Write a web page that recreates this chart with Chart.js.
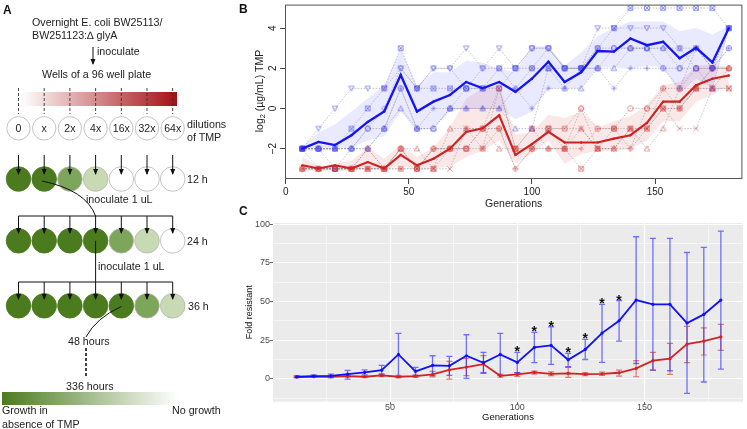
<!DOCTYPE html>
<html>
<head>
<meta charset="utf-8">
<script src="https://cdn.jsdelivr.net/npm/chart.js@4.4.1/dist/chart.umd.min.js"></script>
<style>
html, body { margin: 0; padding: 0; background: #fff; }
#wrap { position: relative; width: 747px; height: 429px; overflow: hidden; }
#chartB { position: absolute; left: 236px; top: 0; }
#chartC { position: absolute; left: 236px; top: 215px; }
#diag { position: absolute; left: 0; top: 0; z-index: 2; pointer-events: none; }
</style>
</head>
<body>
<div id="wrap">
  <canvas id="chartB" width="511" height="215"></canvas>
  <canvas id="chartC" width="511" height="214"></canvas>
  <svg id="diag" width="747" height="429"></svg>
</div>
<script>
// ---------- panel B : log2 MIC, 6 replicate wells per strain ----------
var gensB = [6.7,13.3,20,26.7,33.3,40,46.7,53.3,60,66.7,73.3,80,86.7,93.3,100,106.7,113.3,120,126.7,133.3,140,146.7,153.3,160,166.7,173.3,180];

var wtMean  = [-2.0,-1.66,-1.82,-1.33,-0.67,-0.15,1.67,-0.15,0.34,0.67,1.32,1.0,1.32,0.83,1.48,2.33,1.32,1.8,2.86,2.83,3.48,3.15,3.32,2.5,3.02,2.29,4.0];
var wtUpper = [-1.9,-1.2,-0.8,-0.15,0.5,1.15,2.94,1.15,1.8,1.8,2.37,2.29,1.97,1.8,3.1,3.1,2.13,2.78,3.6,4.0,4.33,4.33,4.33,3.84,4.0,3.67,4.1];
var wtLower = [-2.1,-2.1,-2.05,-1.93,-1.6,-1.37,-0.15,-1.12,-0.96,-0.15,0,0,0,-0.55,-0.15,0.99,0.99,0.99,2.05,2.05,1.97,2.13,2.05,0.75,1.48,0.99,3.9];

var dMean  = [-2.83,-2.99,-2.83,-2.99,-2.67,-2.99,-2.31,-2.83,-2.5,-2.0,-1.17,-0.99,-0.34,-2.31,-1.77,-1.16,-1.69,-1.69,-1.69,-1.5,-1.33,-0.72,0.34,0.34,1.16,1.48,1.64];
var dUpper = [-2.42,-2.9,-2.75,-2.6,-1.95,-2.5,-1.8,-2.42,-1.95,-0.96,0.5,0.99,1.15,-1.28,-1.2,-0.31,-0.47,-0.15,-0.96,-0.64,-0.39,0.16,1.15,1.32,2.13,2.2,2.05];
var dLower = [-3.15,-3.07,-3.15,-3.07,-2.99,-3.07,-2.83,-3.07,-2.99,-2.9,-2.42,-2.1,-1.6,-2.75,-2.26,-1.6,-2.75,-2.26,-2.1,-2.1,-2.0,-1.6,-0.64,-0.64,0.34,0.67,1.15];

var wtRep = [
  [-2,-2,-2,-1,0,1,3,1,1,1,1,1,2,2,2,2,2,2,3,4,5,5,5,5,5,5,4],
  [-2,-1,0,1,1,1,2,1,2,2,3,2,3,2,3,3,2,2,4,4,4,4,4,3,3,2,4],
  [-2,-2,-2,-2,-1,0,2,1,2,2,1,2,2,1,2,3,2,2,3,3,3,3,3,2,3,2,4],
  [-2,-2,-3,-2,-1,-1,1,-1,-1,0,1,1,1,2,3,3,2,2,2,3,3,3,2,2,2,2,3],
  [-2,-2,-2,-2,-2,-1,0,-1,-1,0,0,0,0,-1,-1,2,1,1,2,2,3,3,3,3,2,1,4],
  [-2,-2,-2,-2,-2,-1,1,-1,0,0,0,0,0,1,0,1,1,2,2,1,2,2,2,1,3,2,3]
];
var dRep = [
  [-3,-3,-3,-3,-2,-3,-2,-3,-2,-2,-2,-1,-1,-2,-2,-1,-1,0,-1,-1,0,0,1,1,2,2,2],
  [-3,-3,-3,-3,-3,-3,-2,-2,-3,-1,-1,-1,-2,-2,-1,-2,-2,-1,-2,-2,-1,-2,-1,1,1,1,2],
  [-3,-3,-3,-3,-3,-3,-3,-3,-2,-2,-1,-2,-1,-3,-2,-2,-2,-2,-1,-1,-2,-1,1,0,1,2,2],
  [-3,-3,-3,-3,-3,-3,-2,-3,-3,-3,-1,-1,1,-2,-2,-1,-1,-1,-2,-2,-1,-1,0,-1,-1,1,1],
  [-3,-3,-3,-3,-2,-3,-2,-3,-2,-2,-2,-1,-1,-3,-2,-2,-2,0,-2,-2,-2,0,0,0,1,2,2],
  [-2,-3,-3,-3,-3,-3,-3,-3,-3,-2,-2,-2,1,-2,-1,-1,-2,-3,-2,-1,-1,-1,0,0,1,1,1]
];
var ticksBx = [0, 50, 100, 150];
var ticksBy = [-2, 0, 2, 4];

// ---------- panel C : fold resistance ----------
var gensC = [13.3,20,26.7,33.3,40,46.7,53.3,60,66.7,73.3,80,86.7,93.3,100,106.7,113.3,120,126.7,133.3,140,146.7,153.3,160,166.7,173.3,180];
var wtFold = [1.3,1.7,1.9,3,4.1,5.6,15.8,4.8,8.7,8.4,14.9,10.4,15.8,10.6,20.3,21.6,12.3,19,29.6,37.6,51,48.2,48.2,36.1,41.7,51];
var wtHi   = [2,2.5,3,5.4,5.8,8.7,29.4,7.4,14.9,14.5,28.5,17.1,29.4,17.1,30,33.7,16.4,25.5,48.2,50.7,92,90.9,90.9,81.8,85.1,95.7];
var wtLo   = [0.8,1,0.6,-0.2,2.5,3,1.3,2,2,2.2,0.3,3.9,2.2,3.9,10.4,9.3,7.8,12.5,10.6,24.4,9.9,5.6,5.2,-9.5,-2.1,6.3];
var dFold  = [1.1,1.3,1.3,1.7,1.3,2.2,1.3,1.7,2.8,5.8,7.6,9.5,1.9,2.8,4.1,3.2,3.5,3,3.2,3.9,6.7,11.7,13,22.5,24.4,27.2];
var dHi    = [1.4,1.6,1.7,2.2,1.8,3,2.2,2.6,4.8,11.3,13,15,3,4,5,4.5,7.4,4,4.3,5.6,11.7,17.1,22.9,34,33,35.2];
var dLo    = [0.8,1,0.9,1.2,0.8,1.4,0.6,0.9,1.2,-0.2,2,3.5,1,1.5,3,2,0.9,2,2.2,1.7,1.3,5.6,2.8,10.4,15.4,18.4];
var starGens = [100,106.7,113.3,120,126.7,133.3,140];
var ticksCx = [25, 50, 75, 100, 125, 150, 175];
var ticksCy = [-12.5, 0, 12.5, 25, 37.5, 50, 62.5, 75, 87.5, 100];

var FONT = '"Liberation Sans", Arial, sans-serif';

function pts(xs, ys) {
  return xs.map(function (x, i) { return { x: x, y: ys[i] }; });
}

// small open R-style plotting symbols
function marker(shape, col) {
  var c = document.createElement('canvas');
  c.width = 8; c.height = 8;
  var g = c.getContext('2d');
  var m = 4, r = 2.7;
  g.strokeStyle = col;
  g.lineWidth = 0.8;
  g.beginPath();
  if (shape == 'circle') {
    g.arc(m, m, r, 0, Math.PI * 2);
  } else if (shape == 'tri') {
    g.moveTo(m, m - r); g.lineTo(m + r, m + r * 0.8); g.lineTo(m - r, m + r * 0.8); g.closePath();
  } else if (shape == 'tridown') {
    g.moveTo(m, m + r); g.lineTo(m + r, m - r * 0.8); g.lineTo(m - r, m - r * 0.8); g.closePath();
  } else if (shape == 'plus') {
    g.moveTo(m - r, m); g.lineTo(m + r, m); g.moveTo(m, m - r); g.lineTo(m, m + r);
  } else if (shape == 'diamond') {
    g.moveTo(m, m - r); g.lineTo(m + r, m); g.lineTo(m, m + r); g.lineTo(m - r, m); g.closePath();
  } else if (shape == 'sqx') {
    g.rect(m - 2.3, m - 2.3, 4.6, 4.6);
    g.moveTo(m - 2.3, m - 2.3); g.lineTo(m + 2.3, m + 2.3);
    g.moveTo(m + 2.3, m - 2.3); g.lineTo(m - 2.3, m + 2.3);
  } else if (shape == 'cross') {
    g.moveTo(m - r, m - r); g.lineTo(m + r, m + r); g.moveTo(m + r, m - r); g.lineTo(m - r, m + r);
  }
  g.stroke();
  return c;
}

var wtShapes = ['sqx', 'tridown', 'diamond', 'circle', 'tri', 'plus'];
var dShapes = ['circle', 'tri', 'plus', 'cross', 'diamond', 'sqx'];

// ---------- chart B ----------
var dsB = [];
dsB.push({ data: pts(gensB, wtMean), borderColor: '#1414f5', borderWidth: 2.3, pointRadius: 1.2,
  pointBackgroundColor: '#1414f5', pointBorderWidth: 0, order: 0, fill: false });
dsB.push({ data: pts(gensB, dMean), borderColor: '#cf2222', borderWidth: 2.1, pointRadius: 1.2,
  pointBackgroundColor: '#cf2222', pointBorderWidth: 0, order: 0, fill: false });
wtRep.forEach(function (r, k) {
  dsB.push({ data: pts(gensB, r), borderColor: 'rgba(120,120,120,0.7)', borderWidth: 0.6, borderDash: [1.5, 1.5],
    pointStyle: marker(wtShapes[k], 'rgba(40,40,240,0.6)'), pointRadius: 3, order: 1, fill: false });
});
dRep.forEach(function (r, k) {
  dsB.push({ data: pts(gensB, r), borderColor: 'rgba(120,120,120,0.7)', borderWidth: 0.6, borderDash: [1.5, 1.5],
    pointStyle: marker(dShapes[k], 'rgba(215,40,40,0.6)'), pointRadius: 3, order: 1, fill: false });
});
var iWl = dsB.length;
dsB.push({ data: pts(gensB, wtLower), borderWidth: 0, pointRadius: 0, order: 2, fill: false });
dsB.push({ data: pts(gensB, wtUpper), borderWidth: 0, pointRadius: 0, order: 2,
  fill: { target: iWl }, backgroundColor: 'rgba(110,110,255,0.15)' });
var iDl = dsB.length;
dsB.push({ data: pts(gensB, dLower), borderWidth: 0, pointRadius: 0, order: 2, fill: false });
dsB.push({ data: pts(gensB, dUpper), borderWidth: 0, pointRadius: 0, order: 2,
  fill: { target: iDl }, backgroundColor: 'rgba(215,60,60,0.12)' });

var decoB = {
  id: 'decoB',
  afterDraw: function (ch) {
    var g = ch.ctx, a = ch.chartArea, sx = ch.scales.x, sy = ch.scales.y;
    g.save();
    g.strokeStyle = '#555';
    g.lineWidth = 1;
    g.strokeRect(a.left + 0.5, a.top + 0.5, a.right - a.left - 1, a.bottom - a.top - 1);
    g.fillStyle = '#222';
    g.font = '10px ' + FONT;
    g.textAlign = 'center';
    g.textBaseline = 'middle';
    ticksBx.forEach(function (v) { g.fillText(String(v), sx.getPixelForValue(v), 192); });
    ticksBy.forEach(function (v) {
      g.save();
      g.translate(37, sy.getPixelForValue(v));
      g.rotate(-Math.PI / 2);
      g.fillText(String(v).replace('-', '\u2212'), 0, 0);
      g.restore();
    });
    g.font = '10.5px ' + FONT;
    g.fillText('Generations', (a.left + a.right) / 2, 204);
    // y title with subscript
    g.save();
    g.translate(24, 91);
    g.rotate(-Math.PI / 2);
    g.textAlign = 'left';
    var f1 = '10.5px ' + FONT, f2 = '7.5px ' + FONT;
    g.font = f1; var w1 = g.measureText('log').width; var w3 = g.measureText(' (\u00b5g/mL) TMP').width;
    g.font = f2; var w2 = g.measureText('2').width;
    var x0 = -(w1 + w2 + w3) / 2;
    g.font = f1; g.fillText('log', x0, 0);
    g.font = f2; g.fillText('2', x0 + w1, 3);
    g.font = f1; g.fillText(' (\u00b5g/mL) TMP', x0 + w1 + w2, 0);
    g.restore();
    g.restore();
  }
};

new Chart(document.getElementById('chartB'), {
  type: 'line',
  data: { datasets: dsB },
  options: {
    responsive: false,
    animation: false,
    events: [],
    layout: { padding: { left: 0, right: 4, top: 1, bottom: 0 } },
    plugins: { legend: { display: false }, tooltip: { enabled: false } },
    scales: {
      x: {
        type: 'linear', min: -0.3, max: 185.5,
        afterBuildTicks: function (s) { s.ticks = ticksBx.map(function (v) { return { value: v }; }); },
        afterFit: function (s) { s.height = 36; },
        ticks: { display: false },
        grid: { drawOnChartArea: false, drawTicks: true, tickLength: 5, tickColor: '#444', tickWidth: 1 },
        border: { display: false }
      },
      y: {
        type: 'linear', min: -3.51, max: 5.17,
        afterBuildTicks: function (s) { s.ticks = ticksBy.map(function (v) { return { value: v }; }); },
        afterFit: function (s) { s.width = 49; },
        ticks: { display: false },
        grid: { drawOnChartArea: false, drawTicks: true, tickLength: 5, tickColor: '#444', tickWidth: 1 },
        border: { display: false }
      }
    }
  },
  plugins: [decoB]
});

// ---------- chart C ----------
function isMajor(v, step) { return Math.abs(v / step - Math.round(v / step)) < 1e-6; }

var decoC = {
  id: 'decoC',
  beforeDraw: function (ch) {
    var g = ch.ctx, a = ch.chartArea;
    g.save();
    g.fillStyle = '#ebebeb';
    g.fillRect(a.left, a.top, a.right - a.left, a.bottom - a.top);
    g.restore();
  },
  beforeDatasetsDraw: function (ch) {
    var g = ch.ctx, sx = ch.scales.x, sy = ch.scales.y;
    function bars(lo, hi, col, w) {
      g.strokeStyle = col;
      g.lineWidth = w;
      gensC.forEach(function (gx, i) {
        var x = sx.getPixelForValue(gx), y1 = sy.getPixelForValue(lo[i]), y2 = sy.getPixelForValue(hi[i]);
        g.beginPath();
        g.moveTo(x, y1); g.lineTo(x, y2);
        g.moveTo(x - 3, y1); g.lineTo(x + 3, y1);
        g.moveTo(x - 3, y2); g.lineTo(x + 3, y2);
        g.stroke();
      });
    }
    g.save();
    bars(dLo, dHi, 'rgba(215,40,40,0.6)', 1.2);
    bars(wtLo, wtHi, 'rgba(30,30,255,0.6)', 1.3);
    g.restore();
  },
  afterDraw: function (ch) {
    var g = ch.ctx, a = ch.chartArea, sx = ch.scales.x, sy = ch.scales.y;
    g.save();
    g.fillStyle = '#111';
    g.font = 'bold 14px ' + FONT;
    g.textAlign = 'center';
    g.textBaseline = 'alphabetic';
    starGens.forEach(function (gx) {
      var i = gensC.indexOf(gx);
      g.fillText('*', sx.getPixelForValue(gx), sy.getPixelForValue(wtHi[i]) + 4);
    });
    g.fillStyle = '#4d4d4d';
    g.font = '9px ' + FONT;
    g.textBaseline = 'middle';
    ticksCx.forEach(function (v) {
      if (isMajor(v, 50)) g.fillText(String(v), sx.getPixelForValue(v), 192.5);
    });
    g.textAlign = 'right';
    ticksCy.forEach(function (v) {
      if (isMajor(v, 25)) g.fillText(String(v), 34, sy.getPixelForValue(v));
    });
    g.fillStyle = '#111';
    g.textAlign = 'center';
    g.font = '9.5px ' + FONT;
    g.fillText('Generations', (a.left + a.right) / 2, 202);
    g.save();
    g.translate(14, (a.top + a.bottom) / 2);
    g.rotate(-Math.PI / 2);
    g.font = '9px ' + FONT;
    g.fillText('Fold resistant', 0, 0);
    g.restore();
    g.restore();
  }
};

new Chart(document.getElementById('chartC'), {
  type: 'line',
  data: {
    datasets: [
      { data: pts(gensC, wtFold), borderColor: '#1010ff', borderWidth: 1.8, pointRadius: 1.6,
        pointBackgroundColor: '#1010ff', pointBorderWidth: 0, fill: false },
      { data: pts(gensC, dFold), borderColor: '#d42222', borderWidth: 1.8, pointRadius: 1.6,
        pointBackgroundColor: '#d42222', pointBorderWidth: 0, fill: false }
    ]
  },
  options: {
    responsive: false,
    animation: false,
    events: [],
    layout: { padding: { left: 0, right: 1.3, top: 8, bottom: 0 } },
    plugins: { legend: { display: false }, tooltip: { enabled: false } },
    scales: {
      x: {
        type: 'linear', min: 4, max: 188.7,
        afterBuildTicks: function (s) { s.ticks = ticksCx.map(function (v) { return { value: v }; }); },
        afterFit: function (s) { s.height = 27.3; },
        ticks: { display: false },
        grid: {
          color: '#ffffff',
          lineWidth: function (c) { return c.tick && isMajor(c.tick.value, 50) ? 1.1 : 0.55; },
          tickColor: function (c) { return c.tick && isMajor(c.tick.value, 50) ? '#333' : 'rgba(0,0,0,0)'; },
          tickLength: 3, tickWidth: 0.8
        },
        border: { display: false }
      },
      y: {
        type: 'linear', min: -14.85, max: 100.9,
        afterBuildTicks: function (s) { s.ticks = ticksCy.map(function (v) { return { value: v }; }); },
        afterFit: function (s) { s.width = 37; },
        ticks: { display: false },
        grid: {
          color: '#ffffff',
          lineWidth: function (c) { return c.tick && isMajor(c.tick.value, 25) ? 1.1 : 0.55; },
          tickColor: function (c) { return c.tick && isMajor(c.tick.value, 25) ? '#333' : 'rgba(0,0,0,0)'; },
          tickLength: 3, tickWidth: 0.8
        },
        border: { display: false }
      }
    }
  },
  plugins: [decoC]
});

// ---------- panel A : protocol diagram ----------
var NS = 'http://www.w3.org/2000/svg';
var svg = document.getElementById('diag');
function el(tag, attrs, txt, parent) {
  var e = document.createElementNS(NS, tag);
  for (var k in attrs) e.setAttribute(k, attrs[k]);
  if (txt != null) e.textContent = txt;
  (parent || svg).appendChild(e);
  return e;
}
var defs = el('defs', {});
var gr = el('linearGradient', { id: 'gRed', x1: '0', x2: '1', y1: '0', y2: '0' }, null, defs);
el('stop', { offset: '0', 'stop-color': '#ffffff' }, null, gr);
el('stop', { offset: '1', 'stop-color': '#a50f15' }, null, gr);
var gg = el('linearGradient', { id: 'gGreen', x1: '0', x2: '1', y1: '0', y2: '0' }, null, defs);
el('stop', { offset: '0', 'stop-color': '#4b7b1e' }, null, gg);
el('stop', { offset: '1', 'stop-color': '#ffffff' }, null, gg);
var mk = el('marker', { id: 'ah', markerWidth: '6', markerHeight: '6', refX: '5', refY: '3', orient: 'auto', markerUnits: 'userSpaceOnUse' }, null, defs);
el('path', { d: 'M0,0.5 L6,3 L0,5.5 z', fill: '#111' }, null, mk);

function txt(x, y, s, opt) {
  opt = opt || {};
  return el('text', { x: x, y: y, 'font-family': FONT.replace(/"/g, ''), 'font-size': opt.size || 10.7,
    'font-weight': opt.bold ? 'bold' : 'normal', fill: opt.fill || '#222', 'text-anchor': opt.anchor || 'start' }, s);
}
function line(x1, y1, x2, y2, opt) {
  opt = opt || {};
  var a = { x1: x1, y1: y1, x2: x2, y2: y2, stroke: opt.stroke || '#111', 'stroke-width': opt.w || 1 };
  if (opt.dash) a['stroke-dasharray'] = opt.dash;
  if (opt.arrow) a['marker-end'] = 'url(#ah)';
  return el('line', a);
}

txt(3, 13.5, 'A', { bold: true, size: 12, fill: '#111' });
txt(239, 12.5, 'B', { bold: true, size: 12, fill: '#111' });
txt(239, 215, 'C', { bold: true, size: 12, fill: '#111' });

txt(32, 26, 'Overnight E. coli BW25113/');
txt(32, 38.7, 'BW251123:\u2206 glyA');
line(93, 47, 93, 64, { arrow: true });
txt(97, 55, 'inoculate');
txt(42, 78.3, 'Wells of a 96 well plate');

var cxs = [18.5, 44.2, 69.9, 95.6, 121.3, 147, 172.7];
el('rect', { x: 21, y: 92, width: 156, height: 14, fill: 'url(#gRed)' });
cxs.forEach(function (x) { line(x, 88, x, 114, { dash: '3,2', stroke: '#333', w: 0.9 }); });

var doses = ['0', 'x', '2x', '4x', '16x', '32x', '64x'];
var D = '#4b7b1e', M = '#7ea65a', L = '#c7dab3', W = '#ffffff';
var rows = [
  { y: 128.3, r: 11.7, fills: [W, W, W, W, W, W, W] },
  { y: 179, r: 12.3, fills: [D, D, M, L, W, W, W] },
  { y: 240.8, r: 12.3, fills: [D, D, D, D, M, L, W] },
  { y: 305.8, r: 12.3, fills: [D, D, D, D, D, M, L] }
];
rows.forEach(function (r) {
  cxs.forEach(function (x, i) {
    el('circle', { cx: x, cy: r.y, r: r.r, fill: r.fills[i], stroke: r.fills[i] == D ? '#4b7b1e' : '#b5b5b5', 'stroke-width': 0.8 });
  });
});
cxs.forEach(function (x, i) { txt(x, 132, doses[i], { anchor: 'middle', size: 10.5 }); });
txt(187, 127.7, 'dilutions');
txt(187, 141, 'of TMP');

// arrows into the 12 h row
cxs.forEach(function (x) { line(x, 155, x, 174, { arrow: true }); });
txt(187, 182.5, '12 h');

// transfer from the 12 h well
el('path', { d: 'M42,181 Q86,190 95.6,216', fill: 'none', stroke: '#111', 'stroke-width': 1 });
txt(86, 203.3, 'inoculate 1 uL');
line(18.5, 216, 172.7, 216);
cxs.forEach(function (x) { line(x, 216, x, 233, { arrow: true }); });
txt(187, 244.5, '24 h');

line(95.6, 240.8, 95.6, 282);
txt(98, 270, 'inoculate 1 uL');
line(18.5, 282, 172.7, 282);
cxs.forEach(function (x) { line(x, 282, x, 299, { arrow: true }); });
txt(188, 309.5, '36 h');

el('path', { d: 'M121.3,306.5 Q96,318 86,337', fill: 'none', stroke: '#111', 'stroke-width': 1 });
txt(68, 345, '48 hours');
line(86, 348, 86, 378, { dash: '3,2', w: 1.6 });
txt(66, 390, '336 hours');

el('rect', { x: 2, y: 392, width: 176, height: 13, fill: 'url(#gGreen)' });
txt(2, 414.3, 'Growth in');
txt(2, 428, 'absence of TMP');
txt(172, 414.3, 'No growth');
</script>
</body>
</html>
